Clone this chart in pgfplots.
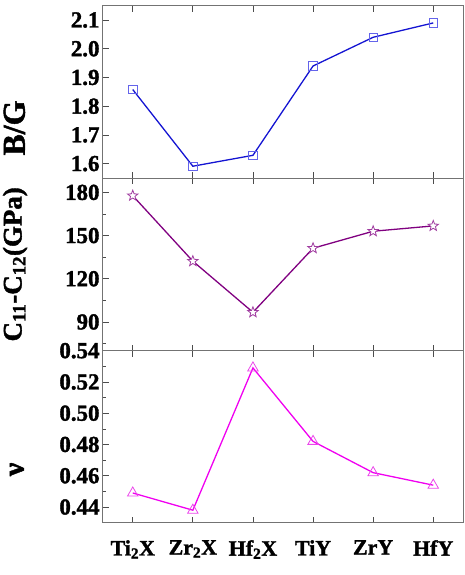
\documentclass[border=0pt]{standalone}
\usepackage{pgfplots}
\pgfplotsset{compat=1.18}
\usepackage{fontspec}
\setmainfont{Liberation Serif}[BoldFont={Liberation Serif Bold}, BoldFeatures={FakeBold=1.5}]
\definecolor{bline}{RGB}{20,20,210}
\definecolor{bmark}{RGB}{100,100,235}
\definecolor{pline}{RGB}{128,0,128}
\definecolor{pmark}{RGB}{160,60,160}
\definecolor{mline}{RGB}{240,0,240}
\definecolor{mmark}{RGB}{235,70,235}
\pgfdeclareplotmark{ostar}{%
  \pgfpathmoveto{\pgfpointpolar{90}{\pgfplotmarksize}}%
  \pgfpathlineto{\pgfpointpolar{126}{0.42\pgfplotmarksize}}%
  \pgfpathlineto{\pgfpointpolar{162}{\pgfplotmarksize}}%
  \pgfpathlineto{\pgfpointpolar{198}{0.42\pgfplotmarksize}}%
  \pgfpathlineto{\pgfpointpolar{234}{\pgfplotmarksize}}%
  \pgfpathlineto{\pgfpointpolar{270}{0.42\pgfplotmarksize}}%
  \pgfpathlineto{\pgfpointpolar{306}{\pgfplotmarksize}}%
  \pgfpathlineto{\pgfpointpolar{342}{0.42\pgfplotmarksize}}%
  \pgfpathlineto{\pgfpointpolar{18}{\pgfplotmarksize}}%
  \pgfpathlineto{\pgfpointpolar{54}{0.42\pgfplotmarksize}}%
  \pgfpathclose
  \pgfusepathqfillstroke}
\tikzset{yl/.style={anchor=east, inner sep=0pt, xshift=-3bp, font=\fontsize{23}{23}\selectfont\bfseries\addfontfeature{FakeBold=3}}}
\pgfplotsset{
  panel/.style={
    scale only axis, width=360.6bp,
    xmin=-0.5, xmax=5.5, clip=false,
    xtick={0,1,2,3,4,5},
    xticklabels={}, yticklabels={},
    tick align=inside,
    xtick pos=both, ytick pos=left,
    major tick length=6bp, minor tick length=3bp,
    axis line style={draw=black!55, line width=0.9pt},
    every tick/.style={black!70, line width=0.7pt},
    every x tick label/.append style={font=\fontsize{22}{22}\selectfont\bfseries, yshift=-14bp},
    ylabel style={rotate=0, anchor=center},
  }
}
\begin{document}
\begin{tikzpicture}
\useasboundingbox (-102.7bp,-52.3bp) rectangle (362.3bp,522.7bp);
% bottom: nu
\begin{axis}[panel, at={(0,0)}, anchor=south west, height=172bp,
  ymin=0.43, ymax=0.54,
  ytick={0.44,0.46,0.48,0.50,0.52,0.54},
  minor ytick={0.45,0.47,0.49,0.51,0.53},
  xticklabels={Ti\textsubscript{2}X, Zr\textsubscript{2}X, Hf\textsubscript{2}X, TiY, ZrY, HfY},
  ylabel={\fontsize{30}{30}\selectfont\bfseries ν},
  ylabel style={at={(axis description cs:-0.238,0.31)}, inner sep=0pt},
]
\addplot[color=mline, line width=1.3pt, mark=triangle, mark size=6bp,
  mark options={draw=mmark, fill=white, line width=0.8pt}]
  coordinates {(0,0.449) (1,0.438) (2,0.529) (3,0.482) (4,0.462) (5,0.454)};
\node[yl] at (axis cs:-0.5,0.44) {0.44};
\node[yl] at (axis cs:-0.5,0.46) {0.46};
\node[yl] at (axis cs:-0.5,0.48) {0.48};
\node[yl] at (axis cs:-0.5,0.50) {0.50};
\node[yl] at (axis cs:-0.5,0.52) {0.52};
\node[yl] at (axis cs:-0.5,0.54) {0.54};
\end{axis}
% middle: C11-C12
\begin{axis}[panel, at={(0,172bp)}, anchor=south west, height=172.7bp,
  ymin=70, ymax=190,
  ytick={90,120,150,180},
  minor ytick={75,105,135,165},
  ylabel={\fontsize{27}{27}\selectfont\bfseries C\textsubscript{11}-C\textsubscript{12}(GPa)},
  ylabel style={at={(axis description cs:-0.243,0.5)}},
]
\addplot[color=pline, line width=1.3pt, mark=ostar, mark size=5.5bp,
  mark options={draw=pmark, fill=white, line width=0.8pt}]
  coordinates {(0,177.7) (1,132.2) (2,96.7) (3,141.2) (4,153) (5,156.7)};
\node[yl] at (axis cs:-0.5,90) {90};
\node[yl] at (axis cs:-0.5,120) {120};
\node[yl] at (axis cs:-0.5,150) {150};
\node[yl] at (axis cs:-0.5,180) {180};
\end{axis}
% top: B/G
\begin{axis}[panel, at={(0,344.7bp)}, anchor=south west, height=172.3bp,
  ymin=1.55, ymax=2.15,
  ytick={1.6,1.7,1.8,1.9,2.0,2.1},
  ylabel={\fontsize{32}{32}\selectfont\bfseries B/G},
  ylabel style={at={(axis description cs:-0.245,0.29)}},
]
\addplot[color=bline, line width=1.3pt, mark=square, mark size=4.2bp,
  mark options={draw=bmark, fill=white, line width=0.8pt}]
  coordinates {(0,1.858) (1,1.591) (2,1.629) (3,1.94) (4,2.04) (5,2.09)};
\node[yl] at (axis cs:-0.5,1.6) {1.6};
\node[yl] at (axis cs:-0.5,1.7) {1.7};
\node[yl] at (axis cs:-0.5,1.8) {1.8};
\node[yl] at (axis cs:-0.5,1.9) {1.9};
\node[yl] at (axis cs:-0.5,2.0) {2.0};
\node[yl] at (axis cs:-0.5,2.1) {2.1};
\end{axis}
\end{tikzpicture}
\end{document}
